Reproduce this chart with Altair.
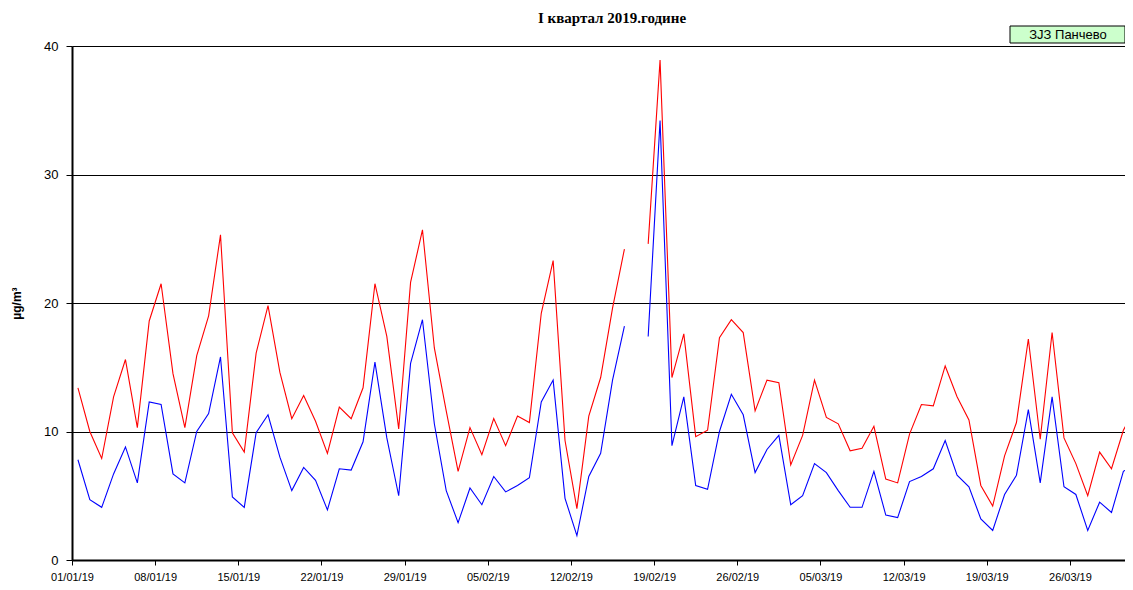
import altair as alt
import pandas as pd

# Daily values, 01/01/2019 .. 31/03/2019 (None = missing day)
red_values = [13.4, 10.0, 7.9, 12.7, 15.6, 10.3, 18.6, 21.5, 14.5, 10.3, 15.9, 19.0, 25.3, 9.9, 8.4, 16.1,
              19.8, 14.6, 11.0, 12.8, 10.8, 8.3, 11.9, 11.0, 13.4, 21.5, 17.4, 10.2, 21.6, 25.7, 16.5,
              11.6, 6.9, 10.3, 8.2, 11.0, 8.9, 11.2, 10.7, 19.2, 23.3, 9.3, 4.0, 11.2, 14.2, 19.6, 24.2,
              None,
              24.6, 38.9, 14.2, 17.6, 9.6, 10.1, 17.3, 18.7, 17.7, 11.6, 14.0, 13.8, 7.4,
              9.7, 14.0, 11.1, 10.6, 8.5, 8.7, 10.4, 6.3, 6.0, 9.8, 12.1, 12.0, 15.1, 12.7, 10.9,
              5.8, 4.2, 8.1, 10.7, 17.2, 9.4, 17.7, 9.5, 7.5, 5.0, 8.4, 7.1, 10.1, 11.8]
blue_values = [7.8, 4.7, 4.1, 6.7, 8.8, 6.0, 12.3, 12.1, 6.7, 6.0, 10.0, 11.4, 15.8, 4.9, 4.1, 9.9,
               11.3, 8.0, 5.4, 7.2, 6.2, 3.9, 7.1, 7.0, 9.2, 15.4, 9.5, 5.0, 15.3, 18.7, 10.6,
               5.4, 2.9, 5.6, 4.3, 6.5, 5.3, 5.8, 6.4, 12.3, 14.0, 4.8, 1.9, 6.5, 8.3, 14.0, 18.2,
               None,
               17.4, 34.2, 8.9, 12.7, 5.8, 5.5, 10.0, 12.9, 11.3, 6.8, 8.6, 9.7, 4.3,
               5.0, 7.5, 6.8, 5.4, 4.1, 4.1, 6.9, 3.5, 3.3, 6.1, 6.5, 7.1, 9.3, 6.6, 5.7,
               3.2, 2.3, 5.1, 6.6, 11.7, 6.0, 12.7, 5.7, 5.1, 2.3, 4.5, 3.7, 6.9, 7.4]
tick_labels = ["01/01/19", "08/01/19", "15/01/19", "22/01/19", "29/01/19", "05/02/19", "12/02/19",
               "19/02/19", "26/02/19", "05/03/19", "12/03/19", "19/03/19", "26/03/19"]
series_names = ["red", "blue"]
series_colors = ["#ff0000", "#0000ff"]
title_text = "I квартал 2019.године"
station_text = "ЗЈЗ Панчево"
y_title = "µg/m³"

rows = []
for name, vals in zip(series_names, [red_values, blue_values]):
    seg = 0
    for i, v in enumerate(vals):
        if v is None:
            seg += 1
            continue
        rows.append({"day": i + 0.5, "value": v, "series": name, "seg": f"{name}{seg}"})
df = pd.DataFrame(rows)

W, H = 1053, 514
days_visible = W / 11.88
tick_vals = [7 * k for k in range(len(tick_labels))]
label_expr = "[" + ",".join(f"'{t}'" for t in tick_labels) + "][round(datum.value/7)]"

FONT = "Liberation Sans"

x_enc = alt.X("day:Q",
              scale=alt.Scale(domain=[0, days_visible], nice=False, zero=False),
              axis=alt.Axis(values=tick_vals, labelExpr=label_expr, title=None, grid=False,
                            domainColor="black", domainWidth=2, tickColor="black", tickSize=5,
                            labelFont=FONT, labelFontSize=11, labelColor="black", labelPadding=6,
                            labelFlush=False, labelOverlap=False))
y_enc = alt.Y("value:Q",
              scale=alt.Scale(domain=[0, 40], nice=False),
              axis=alt.Axis(values=[0, 10, 20, 30, 40], grid=True, gridColor="black", gridWidth=1,
                            domainColor="black", domainWidth=2, tickColor="black", tickSize=6,
                            labelFont=FONT, labelFontSize=13, labelColor="black", labelPadding=8,
                            title=y_title, titleFont=FONT, titleFontSize=12, titleFontWeight="bold",
                            titleColor="black", titleAngle=-90, titleX=-56, titleY=H / 2,
                            titleBaseline="middle", titleAlign="center"))

lines = alt.Chart(df).mark_line(strokeWidth=1.1, clip=True).encode(
    x=x_enc, y=y_enc,
    color=alt.Color("series:N", scale=alt.Scale(domain=series_names, range=series_colors), legend=None),
    detail="seg:N",
    order="day:Q",
)

title_mark = alt.Chart(pd.DataFrame({"t": [title_text]})).mark_text(
    font="Liberation Serif", fontSize=15, fontWeight="bold", color="black",
    baseline="alphabetic", align="center").encode(
    text="t:N", x=alt.value(540), y=alt.value(-23))

box = alt.Chart(pd.DataFrame({"t": [station_text]})).mark_rect(
    fill="#ccffcc", stroke="black", strokeWidth=1).encode(
    x=alt.value(938), x2=alt.value(1053), y=alt.value(-20), y2=alt.value(-3))

station = alt.Chart(pd.DataFrame({"t": [station_text]})).mark_text(
    font=FONT, fontSize=13, color="black", baseline="middle", align="center").encode(
    text="t:N", x=alt.value(996), y=alt.value(-11))

chart = alt.layer(lines, title_mark, box, station).properties(
    width=W, height=H,
    autosize=alt.AutoSizeParams(type="none"),
    padding={"left": 64, "top": 38, "right": 0, "bottom": 22},
).configure_view(stroke=None).configure(background="white")

chart.save("out.html", embed_options={"renderer": "svg", "actions": False})
